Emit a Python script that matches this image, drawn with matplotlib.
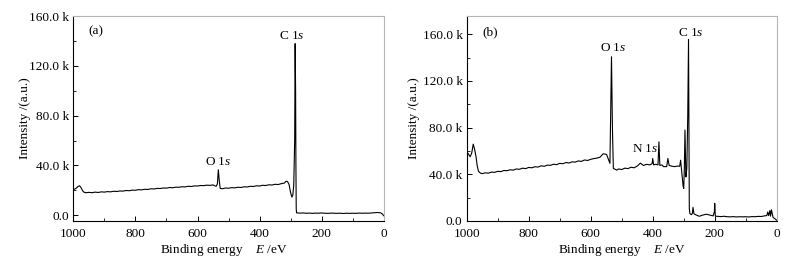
import numpy as np
import matplotlib.pyplot as plt
from matplotlib.ticker import FuncFormatter, MultipleLocator

plt.rcParams['font.family'] = 'Liberation Serif'
plt.rcParams['mathtext.fontset'] = 'custom'
plt.rcParams['mathtext.rm'] = 'Liberation Serif'
plt.rcParams['mathtext.it'] = 'Liberation Serif:italic'

# panel (a): binding energy (eV) and intensity (k counts)
energy_a = [1000, 995, 990, 985, 980, 975, 970, 965, 960, 950, 940, 930, 920, 910,
            900, 890, 880, 870, 860, 850, 840, 830, 820, 810, 800, 790, 780, 770,
            760, 750, 740, 730, 720, 710, 700, 690, 680, 670, 660, 650, 640, 630,
            620, 610, 600, 590, 580, 570, 560, 550, 545, 540, 536, 533, 530, 527,
            520, 510, 500, 490, 480, 470, 460, 450, 440, 430, 420, 410, 400, 390,
            380, 370, 360, 350, 340, 330, 320, 315, 310, 305, 300, 296, 293, 290,
            287, 285.5, 284, 283, 282, 281, 270, 260, 250, 240, 230, 220, 210, 200,
            190, 180, 170, 160, 150, 140, 130, 120, 110, 100, 90, 80, 70, 60, 50,
            40, 30, 20, 10, 5, 0]
counts_a = [20.5, 21.0, 21.8, 23.0, 23.6, 22.0, 19.5, 18.3, 18.0, 18.3, 18.0, 18.5, 18.2,
            18.7, 18.5, 18.9, 18.7, 19.2, 19.0, 19.4, 19.3, 19.8, 19.6, 20.1, 20.0, 20.5,
            20.3, 20.8, 20.6, 21.2, 21.0, 21.5, 21.4, 21.8, 21.7, 22.2, 22.0, 22.5, 22.4,
            22.8, 22.7, 23.2, 23.0, 23.5, 23.4, 23.8, 23.7, 24.1, 23.9, 24.3, 23.6, 23.2,
            25.0, 36.5, 28.0, 21.5, 21.2, 21.8, 21.6, 22.1, 21.9, 22.4, 22.2, 22.8, 22.6,
            23.2, 23.0, 23.6, 23.4, 24.0, 23.8, 24.4, 24.2, 24.8, 24.6, 25.3, 25.8, 27.2,
            27.0, 24.5, 18.0, 14.5, 16.0, 24.0, 60.0, 138.0, 100.0, 40.0, 5.0, 1.8, 1.6,
            1.7, 1.5, 1.6, 1.4, 1.6, 1.5, 1.7, 1.5, 1.4, 1.6, 1.5, 1.4, 1.5, 1.3, 1.5,
            1.4, 1.5, 1.4, 1.6, 1.5, 1.6, 1.5, 1.7, 1.9, 2.1, 1.8, 1.0, -0.5]

# panel (b)
energy_b = [1000, 995, 989, 984, 979, 975, 970, 966, 962, 956, 950, 940, 930, 920, 910,
            900, 890, 880, 870, 860, 850, 840, 830, 820, 810, 800, 790, 780, 770, 760,
            750, 740, 730, 720, 710, 700, 690, 680, 670, 660, 650, 640, 630, 620, 610,
            600, 590, 580, 570, 560, 549, 538, 533, 530, 527, 516, 510, 500, 490, 480,
            470, 460, 450, 440, 430, 420, 410, 402, 400, 397, 390, 383, 380, 377, 370,
            365, 355, 351, 347, 340, 330, 320, 313, 310, 306, 302, 300, 298, 296, 293,
            290, 287, 284.5, 283, 282, 280, 275, 272, 270, 267, 260, 250, 240, 230,
            225, 220, 210, 205, 201, 200, 198, 190, 180, 170, 160, 150, 140, 130, 120,
            110, 100, 90, 80, 70, 60, 50, 40, 32, 29, 26, 22, 20, 17, 12, 5, 0]
counts_b = [59.0, 57.5, 55.0, 58.0, 65.8, 62.0, 55.0, 47.0, 42.5, 41.0, 40.5, 41.2, 40.9,
            41.8, 41.6, 42.5, 42.2, 43.2, 43.0, 43.8, 43.5, 44.5, 44.2, 45.2, 44.8, 45.8,
            45.5, 46.4, 46.1, 47.2, 46.8, 47.8, 47.6, 48.6, 48.2, 49.3, 49.0, 50.0, 49.6,
            50.6, 50.4, 51.4, 51.0, 52.2, 51.8, 52.8, 53.4, 53.8, 54.6, 57.5, 57.0, 49.3,
            140.8, 80.0, 45.0, 43.5, 44.5, 44.0, 45.2, 44.8, 46.0, 45.5, 47.0, 49.5, 47.5,
            48.5, 48.0, 49.0, 53.5, 48.0, 48.5, 48.0, 67.8, 47.5, 48.0, 46.5, 46.5, 53.5,
            47.5, 47.0, 46.5, 47.0, 46.8, 52.0, 41.0, 30.0, 27.8, 45.0, 77.9, 37.6, 45.0,
            90.0, 155.7, 60.0, 10.6, 6.0, 5.3, 6.5, 11.5, 6.0, 5.0, 3.9, 4.8, 5.5, 5.6,
            5.2, 4.5, 4.2, 8.0, 15.0, 4.0, 3.8, 3.6, 3.9, 3.5, 3.4, 3.6, 3.3, 3.5, 3.4,
            3.5, 3.3, 3.6, 3.5, 3.8, 3.7, 4.2, 4.5, 7.5, 4.5, 8.8, 4.0, 9.5, 3.0, 1.5, 0.5]

ticks_k = [0, 40, 80, 120, 160]
frame_gray = '#b4b4b4'
fs = 9.5


def k_fmt(v, pos):
    k = v / 1000.0
    if abs(k) < 1e-6:
        return '0.0'
    return f'{k:.1f} k'


fig = plt.figure(figsize=(8, 2.67), dpi=100)
ax_a = fig.add_axes([0.0917, 0.173, 0.388, 0.766])
ax_b = fig.add_axes([0.5834, 0.173, 0.3875, 0.768])

panels = [
    (ax_a, energy_a, counts_a, (-4600, 160000), -0.155, 0.484),
    (ax_b, energy_b, counts_b, (0, 176000), -0.170, 0.50),
]
for ax, en, ct, ylim, ylab_x, xlab_x in panels:
    ax.plot(en, np.array(ct) * 1000, color='black', lw=0.8)
    ax.set_xlim(1000, 0)
    ax.set_ylim(*ylim)
    ax.set_yticks([t * 1000 for t in ticks_k])
    ax.yaxis.set_minor_locator(MultipleLocator(20000))
    ax.set_xticks([1000, 800, 600, 400, 200, 0])
    ax.xaxis.set_minor_locator(MultipleLocator(100))
    ax.yaxis.set_major_formatter(FuncFormatter(k_fmt))
    ax.tick_params(which='major', direction='in', length=3.5, width=0.7,
                   labelsize=fs, pad=3)
    ax.tick_params(which='minor', direction='in', length=2, width=0.6)
    ax.tick_params(axis='x', pad=5)
    for s in ['top', 'right']:
        ax.spines[s].set_color(frame_gray)
        ax.spines[s].set_linewidth(0.8)
    for s in ['left', 'bottom']:
        ax.spines[s].set_linewidth(0.8)
    ax.text(ylab_x, 0.5, 'Intensity /(a.u.)', transform=ax.transAxes, rotation=90,
            ha='center', va='center', fontsize=fs)
    ax.text(xlab_x, -0.143, 'Binding energy    $E$ /eV', transform=ax.transAxes,
            ha='center', va='center', fontsize=fs)

ax_a.text(928, 147700, '(a)', ha='center', va='center', fontsize=fs)
ax_a.text(297, 144500, 'C 1$s$', ha='center', va='center', fontsize=fs)
ax_a.text(534, 42800, 'O 1$s$', ha='center', va='center', fontsize=fs)

ax_b.text(925, 162000, '(b)', ha='center', va='center', fontsize=fs)
ax_b.text(528, 148000, 'O 1$s$', ha='center', va='center', fontsize=fs)
ax_b.text(277, 161000, 'C 1$s$', ha='center', va='center', fontsize=fs)
ax_b.text(425, 61500, 'N 1$s$', ha='center', va='center', fontsize=fs)

fig.savefig('out.png', dpi=100)
